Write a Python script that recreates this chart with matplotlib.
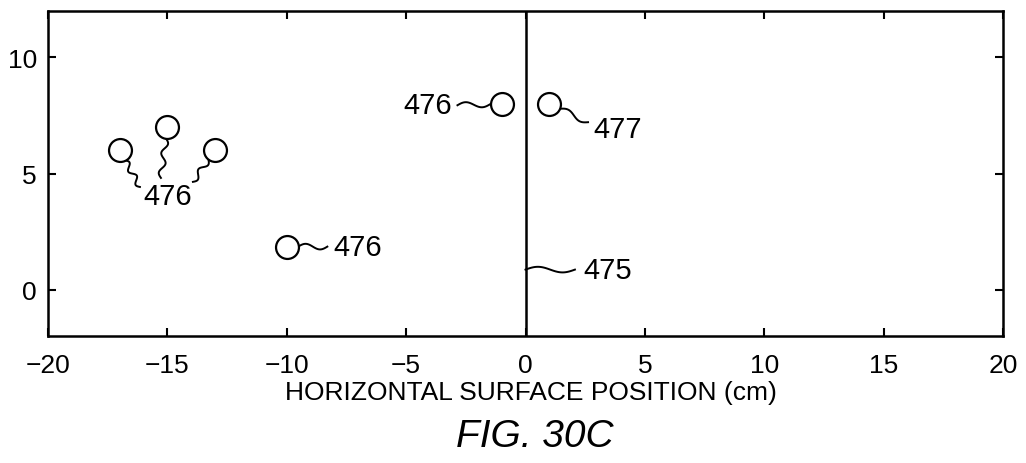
import numpy as np
import matplotlib
matplotlib.use('Agg')
import matplotlib.pyplot as plt

plt.rcParams['font.family'] = ['Liberation Sans', 'DejaVu Sans']

# positions of the sources (circles) in cm
src_x = [-17, -15, -13, -10, -1, 1]
src_y = [6, 7, 6, 1.85, 8, 8]

# the interface line at x = 0
line_x = 0

# leaders: (start kind, start index / point, end point, number of waves)
# kind 'src' starts on the circle edge, 'line' starts on the vertical line
leaders = [
    ('src', 0, (-16.15, 4.42), 2.0),
    ('src', 1, (-15.27, 4.81), 2.0),
    ('src', 2, (-13.93, 4.64), 1.5),
    ('src', 3, (-8.3, 1.85), 1.0),
    ('src', 4, (-2.85, 7.94), 1.0),
    ('src', 5, (2.62, 7.21), 1.0),
    ('line', 0.86, (2.07, 0.86), 1.0),
]

# callout numbers
lab_text = ['476', '476', '476', '477', '475']
lab_x = [-15.0, -8.06, -3.08, 3.87, 2.41]
lab_y = [4.01, 1.85, 7.94, 6.91, 0.86]
lab_ha = ['center', 'left', 'right', 'center', 'left']

fig = plt.figure(figsize=(10.26, 4.64), dpi=100)
ax = fig.add_axes([48 / 1026, 1 - 337 / 464, 955 / 1026, 325 / 464])
ax.set_xlim(-20, 20)
ax.set_ylim(-2, 12)
ax.set_xticks([-20, -15, -10, -5, 0, 5, 10, 15, 20])
ax.set_yticks([0, 5, 10])
ax.tick_params(direction='in', length=6, width=1.5, top=True, right=True,
               labelsize=19)
ax.tick_params(axis='x', pad=12)
ax.tick_params(axis='y', pad=8)
for s in ax.spines.values():
    s.set_linewidth(1.8)

ax.axvline(line_x, color='k', lw=1.8)
ax.plot(src_x, src_y, 'o', ms=16.5, mfc='white', mec='k', mew=1.6, zorder=5)

r_px = 11.5


def squiggle(p0, p1, waves, amp=2.8, from_circle=False):
    p0 = ax.transData.transform(p0)
    p1 = ax.transData.transform(p1)
    d = p1 - p0
    L = np.hypot(*d)
    u = d / L
    if from_circle:
        p0 = p0 + u * r_px
        d = p1 - p0
    n = np.array([-u[1], u[0]])
    t = np.linspace(0, 1, 80)
    pts = p0 + np.outer(t, d) + np.outer(amp * np.sin(2 * np.pi * waves * t), n)
    dd = ax.transData.inverted().transform(pts)
    ax.plot(dd[:, 0], dd[:, 1], 'k-', lw=1.4)


for kind, ref, end, waves in leaders:
    if kind == 'src':
        squiggle((src_x[ref], src_y[ref]), end, waves, from_circle=True)
    else:
        squiggle((line_x, ref), end, waves)

for t, x, y, ha in zip(lab_text, lab_x, lab_y, lab_ha):
    ax.text(x, y, t, ha=ha, va='center', fontsize=21)

fig.text(531 / 1026, 1 - 400 / 464, 'HORIZONTAL SURFACE POSITION (cm)',
         ha='center', va='baseline', fontsize=19)
fig.text(535 / 1026, 1 - 447 / 464, 'FIG. 30C', ha='center', va='baseline',
         fontsize=28, style='italic')

fig.savefig('out.png', dpi=100)
